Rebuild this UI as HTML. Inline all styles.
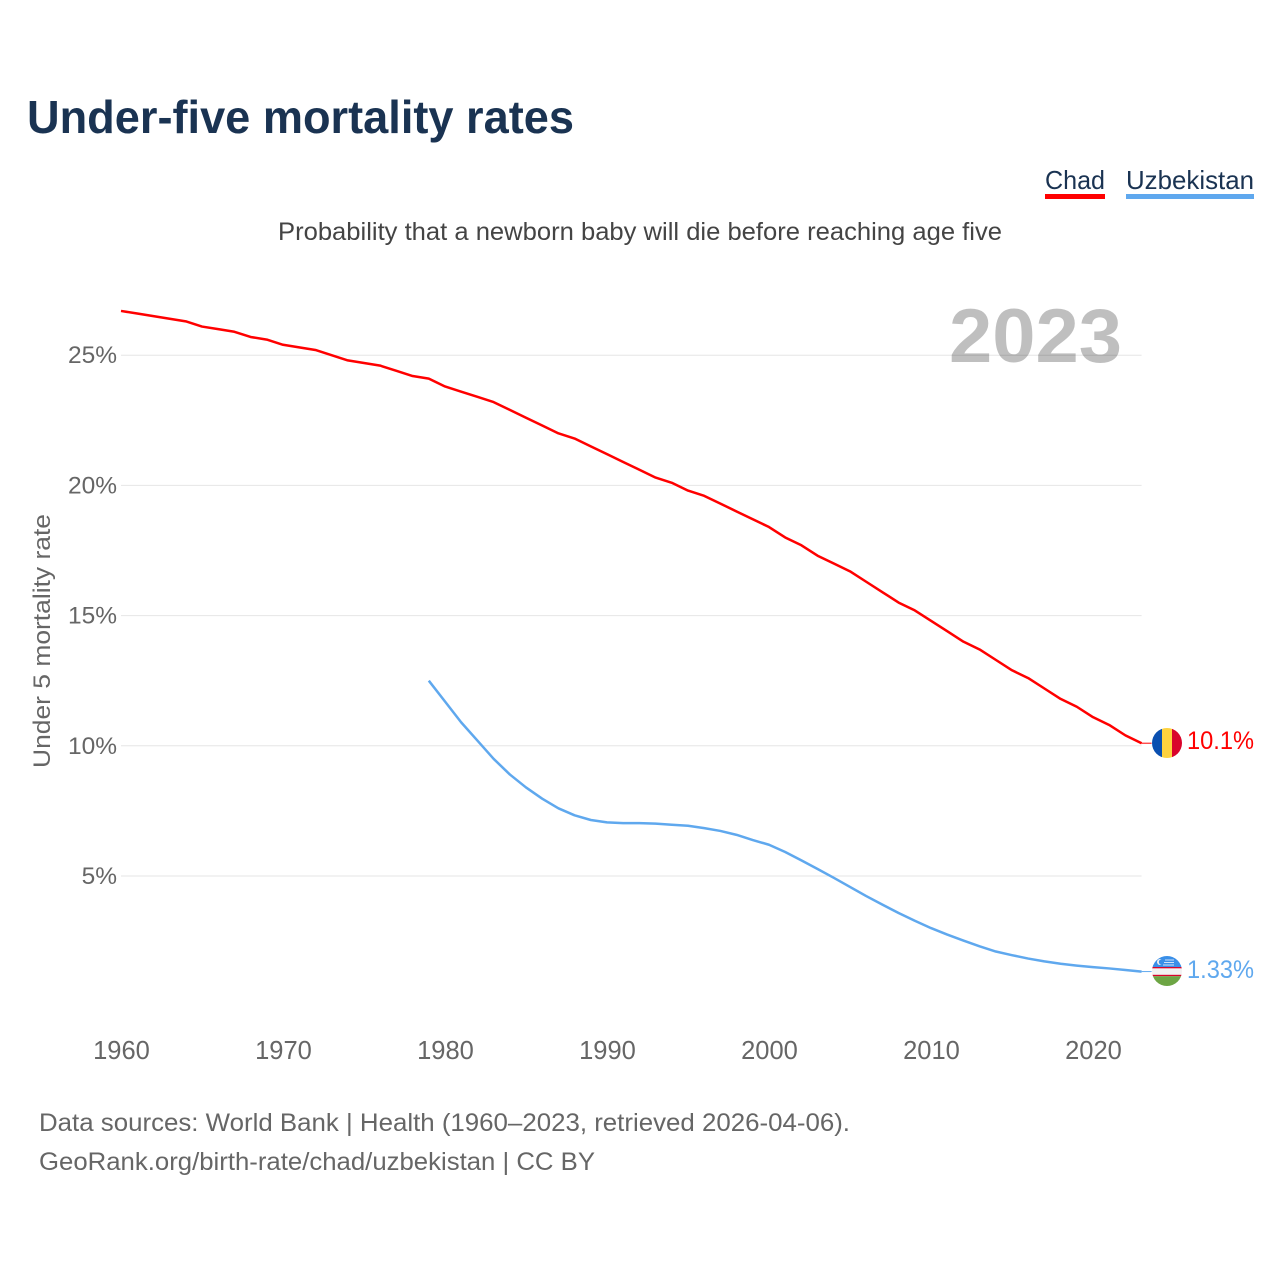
<!DOCTYPE html>
<html lang="en">
<head>
<meta charset="utf-8">
<title>Under-five mortality rates</title>
<style>
html,body{margin:0;padding:0;background:#fff;width:1280px;height:1280px;overflow:hidden}
svg{display:block}
text{font-family:"Liberation Sans",sans-serif}
</style>
</head>
<body>
<svg id="chart" xmlns="http://www.w3.org/2000/svg" width="1280" height="1280" viewBox="0 0 1280 1280">
  <defs>
    <clipPath id="clip-chad"><circle cx="1167" cy="743" r="15"/></clipPath>
    <clipPath id="clip-uz"><circle cx="1167" cy="971" r="15"/></clipPath>
  </defs>
  <text x="27" y="133" font-size="46" font-weight="700" fill="#1a3352" textLength="547" lengthAdjust="spacingAndGlyphs">Under-five mortality rates</text>
  <text x="278" y="240" font-size="25" fill="#444444" textLength="724" lengthAdjust="spacingAndGlyphs">Probability that a newborn baby will die before reaching age five</text>

  <g>
    <text x="1045" y="189" font-size="26" fill="#1a3352" textLength="60" lengthAdjust="spacingAndGlyphs">Chad</text>
    <rect x="1045" y="194" width="60" height="5" fill="#ff0000"/>
  </g>
  <g>
    <text x="1126" y="189" font-size="26" fill="#1a3352" textLength="128" lengthAdjust="spacingAndGlyphs">Uzbekistan</text>
    <rect x="1126" y="194" width="128" height="5" fill="#5fa8ee"/>
  </g>

  <g id="grid"></g>
  <text x="949" y="362" font-size="76" font-weight="700" fill="#000000" fill-opacity="0.25" textLength="173" lengthAdjust="spacingAndGlyphs">2023</text>
  <g id="yticks"></g>
  <g id="xticks"></g>
  <text transform="translate(50,768) rotate(-90)" font-size="24" fill="#666666" textLength="254" lengthAdjust="spacingAndGlyphs">Under 5 mortality rate</text>

  <g id="series"></g>

  <g clip-path="url(#clip-chad)">
    <rect x="1152" y="728" width="10" height="30" fill="#0a4fb0"/>
    <rect x="1162" y="728" width="10" height="30" fill="#fed23f"/>
    <rect x="1172" y="728" width="10" height="30" fill="#d9042b"/>
  </g>
  <g clip-path="url(#clip-uz)">
    <rect x="1152" y="956" width="30" height="11" fill="#3a8fe8"/>
    <rect x="1152" y="967" width="30" height="1.4" fill="#d9042b"/>
    <rect x="1152" y="968.4" width="30" height="6.4" fill="#f2f2f2"/>
    <rect x="1152" y="974.8" width="30" height="1.4" fill="#d9042b"/>
    <rect x="1152" y="976.2" width="30" height="10" fill="#6da544"/>
    <circle cx="1160" cy="962" r="3" fill="#f2f2f2"/>
    <circle cx="1161.4" cy="962" r="2.6" fill="#3a8fe8"/>
    <rect x="1165" y="959.5" width="9" height="1" fill="#cfe2f8"/>
    <rect x="1164" y="962" width="10" height="1" fill="#cfe2f8"/>
    <rect x="1163" y="964.5" width="11" height="1" fill="#cfe2f8"/>
  </g>

  <text x="1187" y="749" font-size="25" fill="#ff0000" textLength="67" lengthAdjust="spacingAndGlyphs">10.1%</text>
  <text x="1187" y="978" font-size="25" fill="#5fa8ee" textLength="67" lengthAdjust="spacingAndGlyphs">1.33%</text>

  <text x="39" y="1131" font-size="25" fill="#666666" textLength="811" lengthAdjust="spacingAndGlyphs">Data sources: World Bank | Health (1960–2023, retrieved 2026-04-06).</text>
  <text x="39" y="1170" font-size="25" fill="#666666" textLength="556" lengthAdjust="spacingAndGlyphs">GeoRank.org/birth-rate/chad/uzbekistan | CC BY</text>
</svg>
<script>
const yTickValues = [5, 10, 15, 20, 25];
const xTickValues = [1960, 1970, 1980, 1990, 2000, 2010, 2020];
const chadStartYear = 1960;
const chadValues = [26.7,26.6,26.5,26.4,26.3,26.1,26.0,25.9,25.7,25.6,25.4,25.3,25.2,25.0,24.8,24.7,24.6,24.4,24.2,24.1,23.8,23.6,23.4,23.2,22.9,22.6,22.3,22.0,21.8,21.5,21.2,20.9,20.6,20.3,20.1,19.8,19.6,19.3,19.0,18.7,18.4,18.0,17.7,17.3,17.0,16.7,16.3,15.9,15.5,15.2,14.8,14.4,14.0,13.7,13.3,12.9,12.6,12.2,11.8,11.5,11.1,10.8,10.4,10.1];
const uzbekistanStartYear = 1979;
const uzbekistanValues = [12.5,11.7,10.9,10.2,9.5,8.9,8.4,7.97,7.6,7.33,7.15,7.06,7.03,7.03,7.01,6.97,6.93,6.84,6.73,6.58,6.38,6.2,5.92,5.6,5.27,4.93,4.58,4.23,3.9,3.58,3.28,3.0,2.75,2.52,2.3,2.1,1.96,1.83,1.72,1.63,1.56,1.5,1.45,1.39,1.33];

const NS = 'http://www.w3.org/2000/svg';
const xScale = function (year) { return 121 + (year - 1960) * 16.2; };
const yScale = function (v) { return 1006.2 - v * 26.04; };
const plotRight = xScale(2023);

const grid = document.getElementById('grid');
const yticks = document.getElementById('yticks');
yTickValues.forEach(function (v) {
  const line = document.createElementNS(NS, 'line');
  
  
  line.setAttribute('x1', xScale(1960));
  line.setAttribute('x2', plotRight);
  line.setAttribute('y1', yScale(v));
  line.setAttribute('y2', yScale(v));
  line.setAttribute('stroke', '#e6e6e6');
  line.setAttribute('stroke-width', '1');
  grid.appendChild(line);
  const t = document.createElementNS(NS, 'text');
  
  
  t.setAttribute('x', 117);
  t.setAttribute('y', yScale(v) + 8);
  t.setAttribute('text-anchor', 'end');
  t.setAttribute('font-size', '24.5');
  t.setAttribute('fill', '#666666');
  t.textContent = v + '%';
  yticks.appendChild(t);
});

const xticks = document.getElementById('xticks');
xTickValues.forEach(function (y) {
  const t = document.createElementNS(NS, 'text');
  
  
  t.setAttribute('x', xScale(y) + 0.5);
  t.setAttribute('y', 1059);
  t.setAttribute('text-anchor', 'middle');
  t.setAttribute('font-size', '25.5');
  t.setAttribute('fill', '#666666');
  t.textContent = y;
  xticks.appendChild(t);
});

function linePoints(startYear, values) {
  return values.map(function (v, i) {
    return xScale(startYear + i).toFixed(2) + ',' + yScale(v).toFixed(2);
  }).join(' ');
}
const series = document.getElementById('series');

const chadLine = document.createElementNS(NS, 'polyline');


chadLine.setAttribute('fill', 'none');
chadLine.setAttribute('stroke', '#ff0000');
chadLine.setAttribute('stroke-width', '2.5');
chadLine.setAttribute('stroke-linejoin', 'round');
chadLine.setAttribute('points', linePoints(chadStartYear, chadValues));
series.appendChild(chadLine);

const chadConnector = document.createElementNS(NS, 'line');


chadConnector.setAttribute('x1', plotRight);
chadConnector.setAttribute('x2', plotRight + 10);
chadConnector.setAttribute('y1', yScale(chadValues[chadValues.length - 1]));
chadConnector.setAttribute('y2', yScale(chadValues[chadValues.length - 1]));
chadConnector.setAttribute('stroke', '#ff0000');
chadConnector.setAttribute('stroke-width', '1');
series.appendChild(chadConnector);

const uzLine = document.createElementNS(NS, 'polyline');


uzLine.setAttribute('fill', 'none');
uzLine.setAttribute('stroke', '#5fa8ee');
uzLine.setAttribute('stroke-width', '2.5');
uzLine.setAttribute('stroke-linejoin', 'round');
uzLine.setAttribute('points', linePoints(uzbekistanStartYear, uzbekistanValues));
series.appendChild(uzLine);

const uzConnector = document.createElementNS(NS, 'line');


uzConnector.setAttribute('x1', plotRight);
uzConnector.setAttribute('x2', plotRight + 10);
uzConnector.setAttribute('y1', yScale(uzbekistanValues[uzbekistanValues.length - 1]));
uzConnector.setAttribute('y2', yScale(uzbekistanValues[uzbekistanValues.length - 1]));
uzConnector.setAttribute('stroke', '#5fa8ee');
uzConnector.setAttribute('stroke-width', '1');
series.appendChild(uzConnector);
</script>
</body>
</html>
